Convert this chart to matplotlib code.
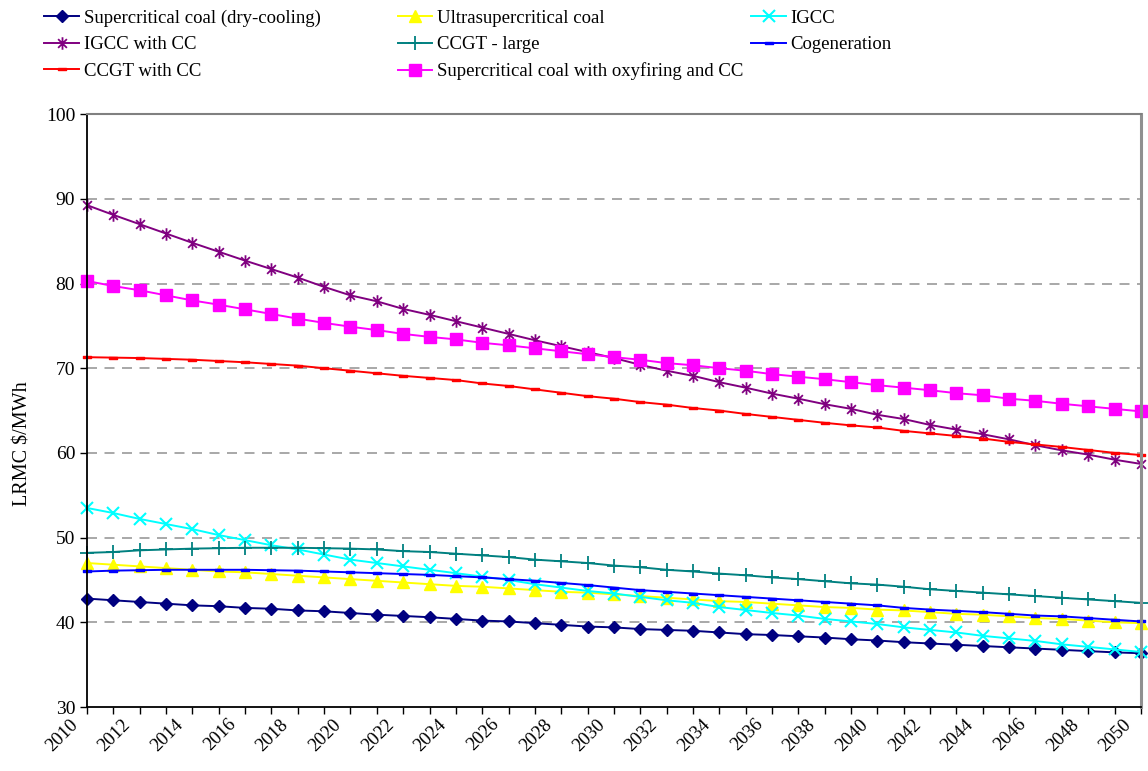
import numpy as np
import matplotlib.pyplot as plt
from matplotlib.path import Path
from matplotlib.transforms import ScaledTranslation

plt.rcParams['font.family'] = ['Liberation Serif', 'DejaVu Serif']

years = list(range(2010, 2051))

# LRMC $/MWh
sc_dry = [42.8, 42.6, 42.4, 42.2, 42.0, 41.9, 41.7, 41.6, 41.4, 41.3,
          41.1, 40.9, 40.75, 40.6, 40.4, 40.2, 40.1, 39.9, 39.7, 39.5,
          39.4, 39.2, 39.1, 39.0, 38.8, 38.6, 38.5, 38.35, 38.2, 38.0,
          37.85, 37.65, 37.5, 37.35, 37.2, 37.05, 36.9, 36.75, 36.6, 36.45, 36.35]
usc = [47.0, 46.8, 46.6, 46.4, 46.2, 46.0, 45.9, 45.7, 45.5, 45.3,
       45.1, 44.9, 44.7, 44.5, 44.3, 44.2, 44.0, 43.8, 43.6, 43.5,
       43.3, 43.1, 42.9, 42.7, 42.5, 42.4, 42.2, 42.0, 41.8, 41.7,
       41.5, 41.4, 41.2, 41.0, 40.9, 40.7, 40.5, 40.4, 40.2, 40.0, 39.9]
igcc = [53.5, 52.9, 52.2, 51.6, 51.0, 50.3, 49.7, 49.1, 48.6, 48.0,
        47.4, 47.0, 46.6, 46.2, 45.8, 45.4, 45.0, 44.5, 44.1, 43.7,
        43.4, 43.0, 42.6, 42.3, 41.8, 41.45, 41.1, 40.8, 40.4, 40.1,
        39.8, 39.4, 39.1, 38.8, 38.4, 38.1, 37.8, 37.4, 37.1, 36.8, 36.5]
igcc_cc = [89.25, 88.1, 87.0, 85.9, 84.8, 83.75, 82.7, 81.7, 80.7, 79.6,
           78.6, 77.9, 77.0, 76.3, 75.55, 74.8, 74.05, 73.3, 72.6, 71.9,
           71.2, 70.4, 69.7, 69.1, 68.35, 67.7, 67.0, 66.4, 65.75, 65.2,
           64.5, 64.0, 63.3, 62.75, 62.2, 61.6, 60.9, 60.3, 59.8, 59.2, 58.7]
ccgt = [48.2, 48.3, 48.5, 48.6, 48.7, 48.75, 48.8, 48.8, 48.8, 48.75,
        48.7, 48.6, 48.4, 48.3, 48.1, 47.9, 47.7, 47.4, 47.2, 47.0,
        46.7, 46.5, 46.2, 46.0, 45.75, 45.55, 45.3, 45.1, 44.85, 44.6,
        44.45, 44.2, 43.9, 43.7, 43.5, 43.3, 43.1, 42.9, 42.7, 42.5, 42.3]
cogen = [46.0, 46.1, 46.15, 46.2, 46.2, 46.2, 46.2, 46.15, 46.1, 46.0,
         45.9, 45.8, 45.7, 45.6, 45.45, 45.3, 45.1, 44.9, 44.65, 44.4,
         44.1, 43.8, 43.6, 43.4, 43.2, 43.0, 42.8, 42.6, 42.4, 42.2,
         42.0, 41.7, 41.5, 41.35, 41.2, 41.0, 40.8, 40.7, 40.5, 40.3, 40.1]
ccgt_cc = [71.3, 71.25, 71.2, 71.1, 71.0, 70.85, 70.7, 70.5, 70.3, 70.0,
           69.7, 69.4, 69.1, 68.85, 68.6, 68.2, 67.9, 67.5, 67.1, 66.7,
           66.4, 66.0, 65.7, 65.3, 65.0, 64.6, 64.25, 63.9, 63.55, 63.25,
           63.0, 62.6, 62.3, 62.0, 61.7, 61.3, 61.0, 60.7, 60.35, 60.0, 59.75]
sc_oxy = [80.3, 79.7, 79.2, 78.6, 78.0, 77.5, 76.95, 76.4, 75.85, 75.35,
          74.9, 74.5, 74.05, 73.7, 73.4, 73.0, 72.7, 72.35, 72.0, 71.65,
          71.3, 71.0, 70.6, 70.35, 70.0, 69.7, 69.3, 69.0, 68.7, 68.35,
          68.0, 67.7, 67.4, 67.05, 66.8, 66.4, 66.15, 65.8, 65.5, 65.2, 64.9]

names = ['Supercritical coal (dry-cooling)', 'Ultrasupercritical coal', 'IGCC',
         'IGCC with CC', 'CCGT - large', 'Cogeneration',
         'CCGT with CC', 'Supercritical coal with oxyfiring and CC']

# custom markers: excel-style star and short dash
star = Path([(0, -1), (0, 1), (-0.7, -0.7), (0.7, 0.7), (-0.7, 0.7), (0.7, -0.7)],
            [Path.MOVETO, Path.LINETO] * 3)
dash = Path([(-1, -0.35), (1, -0.35), (1, 0.35), (-1, 0.35), (-1, -0.35)],
            [Path.MOVETO, Path.LINETO, Path.LINETO, Path.LINETO, Path.CLOSEPOLY])

styles = [
    dict(color='#000080', marker='D', ms=6.5),
    dict(color='#FFFF00', marker='^', ms=8.5),
    dict(color='#00FFFF', marker='x', ms=8, mew=1.5),
    dict(color='#800080', marker=star, ms=9, mew=1.3),
    dict(color='#008080', marker='+', ms=10, mew=1.3),
    dict(color='#0000FF', marker=dash, ms=6),
    dict(color='#FF0000', marker=dash, ms=6),
    dict(color='#FF00FF', marker='s', ms=8.5),
]
series = [sc_dry, usc, igcc, igcc_cc, ccgt, cogen, ccgt_cc, sc_oxy]

fig = plt.figure(figsize=(11.48, 7.71), dpi=100)
ax = fig.add_axes([0.0758, 0.083, 0.918, 0.769])

handles = []
for vals, name, st in zip(series, names, styles):
    h, = ax.plot(years, vals, lw=1.4, label=name, clip_on=False, **st)
    handles.append(h)

ax.set_xlim(2010, 2050)
ax.set_ylim(30, 100)
ax.set_yticks(range(30, 101, 10))
ax.set_xticks(range(2010, 2051, 2))
ax.set_xticks(range(2011, 2050, 2), minor=True)
ax.tick_params(axis='y', labelsize=14, direction='out', length=5, width=1)
ax.tick_params(axis='x', which='both', direction='out', length=5, width=1)
ax.set_xticklabels([str(y) for y in range(2010, 2051, 2)], rotation=45,
                   ha='right', va='top', rotation_mode='anchor', fontsize=13.5)
# nudge the slanted year labels left, as in the original
shift = ScaledTranslation(-0.18, 0.03, fig.dpi_scale_trans)
for lab in ax.get_xticklabels():
    lab.set_transform(lab.get_transform() + shift)

for y in range(40, 100, 10):
    ax.axhline(y, color='#999999', lw=1.2, ls=(0, (6, 4.5)), zorder=0)

ax.spines['left'].set_color('black')
ax.spines['bottom'].set_color('black')
ax.spines['left'].set_linewidth(1.3)
ax.spines['bottom'].set_linewidth(1.3)
ax.spines['top'].set_color('#808080')
ax.spines['top'].set_linewidth(1.5)
ax.spines['right'].set_color('#909090')
ax.spines['right'].set_linewidth(2.2)

ax.set_ylabel('LRMC \\$/MWh', fontsize=14.5)
ax.yaxis.set_label_coords(-0.052, 0.445)

# legend in three columns, placed like the excel one
cols = [[0, 3, 6], [1, 4, 7], [2, 5]]
xpos = [0.0385, 0.3465, 0.6545]
for idx, x0 in zip(cols, xpos):
    fig.legend([handles[i] for i in idx], [names[i] for i in idx],
               loc='upper left', bbox_to_anchor=(x0, 0.9877), frameon=False,
               fontsize=13.5, borderpad=0, borderaxespad=0, handlelength=1.85,
               handletextpad=0.25, labelspacing=0.5)

fig.savefig('out.png', dpi=100)
